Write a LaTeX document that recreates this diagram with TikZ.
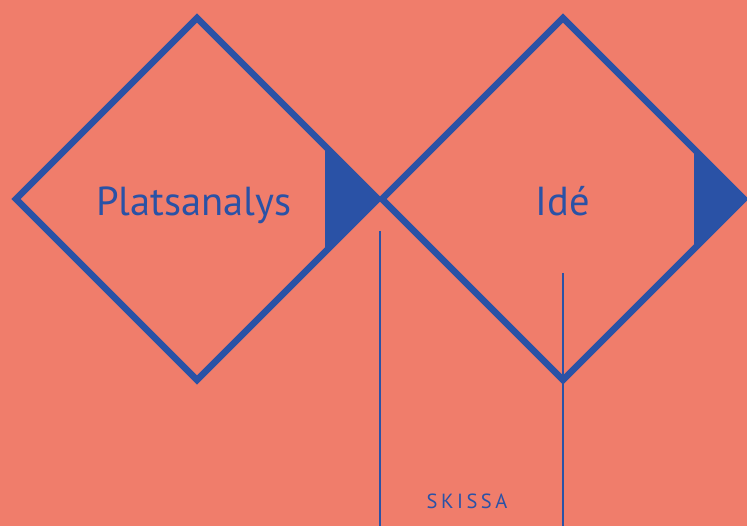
\documentclass[tikz,border=0pt]{standalone}
\usepackage{fontspec}
\setmainfont{PT Sans}
\begin{document}
\begin{tikzpicture}[x=1pt,y=-1pt,
  diam/.style={draw=myblue,line width=6.5pt,miter limit=10},
  vline/.style={draw=myblue,line width=2pt},
  tri/.style={fill=myblue,draw=none},
  big/.style={text=myblue,font=\fontsize{40.5}{42}\selectfont,inner sep=0pt,anchor=base},
  small/.style={text=myblue,font=\fontsize{20.5}{22}\selectfont,inner sep=0pt,anchor=base}]
\definecolor{bgc}{HTML}{F07D6B}
\definecolor{myblue}{HTML}{2A52A6}
\fill[bgc] (0,0) rectangle (747,526);
\useasboundingbox (0,0) rectangle (747,526);
% left diamond
\fill[myblue] (325,146) -- (380,199) -- (325,252) -- cycle;
\draw[diam] (197,18) -- (378,199) -- (197,380) -- (16,199) -- cycle;
% right diamond
\fill[myblue] (694,146) -- (747,199) -- (694,252) -- cycle;
\draw[diam] (563,18) -- (744,199) -- (563,380) -- (382,199) -- cycle;
\coordinate (v1t) at (380,231);
\coordinate (v1b) at (380,526);
\coordinate (v2t) at (563,273);
\coordinate (v2b) at (563,526);
\draw[vline] (v1t) -- (v1b);
\draw[vline] (v2t) -- (v2b);
\node[big] (p) at (194,216) {Platsanalys};
\node[big] (i) at (563,216) {Idé};
\node[small] (s) at (467,508) {S\hspace{3.5pt}K\hspace{3.5pt}I\hspace{3.5pt}S\hspace{3.5pt}S\hspace{3.5pt}A};
\end{tikzpicture}
\end{document}
